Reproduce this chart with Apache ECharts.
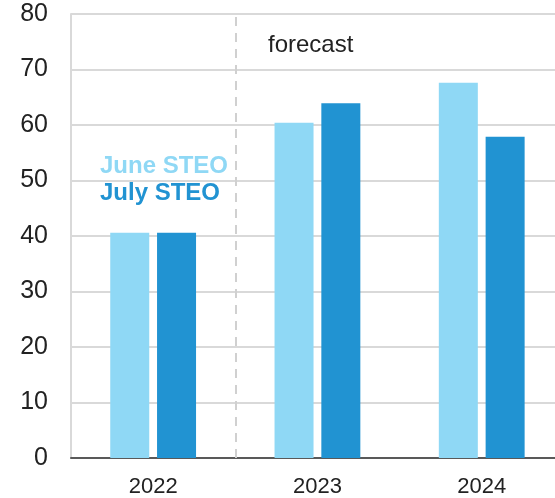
<!DOCTYPE html>
<html>
<head>
<meta charset="utf-8">
<script src="https://cdn.jsdelivr.net/npm/echarts@6/dist/echarts.min.js"></script>
<style>
html,body{margin:0;padding:0;background:#fff;}
#chart{width:555px;height:498px;}
</style>
</head>
<body>
<div id="chart"></div>
<script>
const categories = ['2022', '2023', '2024'];
const juneSTEO = [40.6, 60.4, 67.6];
const julySTEO = [40.6, 63.9, 57.9];
const yTicks = [0, 10, 20, 30, 40, 50, 60, 70, 80];
const forecastStart = '2023';

const chart = echarts.init(document.getElementById('chart'));
const font = 'Arial, "Liberation Sans", sans-serif';
const fIdx = categories.indexOf(forecastStart);
const idx = categories.map((c, i) => i);
// The plot is cropped on the right: only ~2.95 of the 3 category bands are visible.
const visibleBands = 2.946;
chart.setOption({
  animation: false,
  grid: {left: 71, right: 0, top: 14, bottom: 39},
  xAxis: {type: 'value', min: -0.5, max: visibleBands - 0.5,
     axisLine: {show: true, onZero: false, lineStyle: {color: '#595959', width: 2}},
     axisTick: {show: false},
     axisLabel: {color: '#222', fontSize: 22, fontFamily: font, margin: 18,
       customValues: idx, formatter: v => categories[Math.round(v)] || ''},
     splitLine: {show: false}},
  yAxis: {type: 'value', min: yTicks[0], max: yTicks[yTicks.length - 1], interval: 10,
     axisLine: {show: true, onZero: false, lineStyle: {color: '#d9d9d9', width: 2}},
     axisTick: {show: false},
     axisLabel: {color: '#222', fontSize: 25, fontFamily: font, margin: 23},
     splitLine: {show: true, lineStyle: {color: '#d9d9d9', width: 2}}},
  series: [
    {name: 'June STEO', type: 'bar', data: juneSTEO.map((v, i) => [idx[i], v]),
     barWidth: 39, barGap: '20%', itemStyle: {color: '#8fd8f5'}},
    {name: 'July STEO', type: 'bar', data: julySTEO.map((v, i) => [idx[i], v]),
     barWidth: 39, itemStyle: {color: '#2193d2'}},
    {name: 'forecast', type: 'line', data: [[fIdx - 0.5, 0]], symbol: 'none',
     lineStyle: {opacity: 0}, silent: true,
     markLine: {silent: true, symbol: 'none', label: {show: false},
       lineStyle: {color: '#d0d0d0', width: 2, type: [9, 7]},
       data: [[{coord: [fIdx - 0.5, 0]}, {coord: [fIdx - 0.5, 79.5]}]]}}
  ],
  graphic: [
    {type: 'text', left: 100, top: 154, style: {text: 'June STEO', fill: '#8fd8f5', font: 'bold 24px ' + font}},
    {type: 'text', left: 100, top: 181, style: {text: 'July STEO', fill: '#2193d2', font: 'bold 24px ' + font}},
    {type: 'text', left: 268, top: 33, style: {text: 'forecast', fill: '#222', font: '24px ' + font}}
  ]
});
</script>
</body>
</html>
